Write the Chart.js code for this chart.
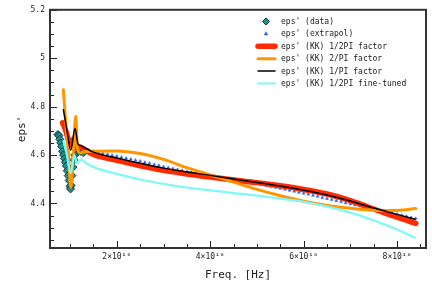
<!DOCTYPE html>
<html>
<head>
<meta charset="utf-8">
<script src="https://cdn.jsdelivr.net/npm/chart.js@4.4.0/dist/chart.umd.min.js"></script>
<style>
  html, body { margin: 0; padding: 0; background: #fff; }
  canvas { display: block; }
</style>
</head>
<body>
<canvas id="epsChart" width="432" height="300"></canvas>
<script>
// frequencies are in units of 1e10 Hz
const xTicks = [2, 4, 6, 8];
const yTicks = [4.4, 4.6, 4.8, 5, 5.2];

// eps' (data)
const dataFreq = [0.74, 0.76, 0.78, 0.80, 0.82, 0.84, 0.86, 0.88, 0.90, 0.92, 0.94, 0.96, 0.98, 1.00, 1.01, 1.02, 1.04, 1.06, 1.08, 1.10, 1.13, 1.17, 1.22, 1.28];
const dataEps = [4.685, 4.68, 4.665, 4.65, 4.635, 4.615, 4.60, 4.585, 4.57, 4.555, 4.535, 4.515, 4.495, 4.47, 4.46, 4.475, 4.515, 4.55, 4.58, 4.60, 4.612, 4.618, 4.615, 4.61];

// eps' (extrapol)
const extFreq = [1.2, 1.3, 1.4, 1.5, 1.6, 1.7, 1.8, 1.9, 2.0, 2.1, 2.2, 2.3, 2.4, 2.5, 2.6, 2.7, 2.8, 2.9, 3.0,
  3.1, 3.2, 3.3, 3.4, 3.5, 3.6, 3.7, 3.8, 3.9, 4.0, 4.1, 4.2, 4.3, 4.4, 4.5, 4.6, 4.7, 4.8, 4.9, 5.0,
  5.1, 5.2, 5.3, 5.4, 5.5, 5.6, 5.7, 5.8, 5.9, 6.0, 6.1, 6.2, 6.3, 6.4, 6.5, 6.6, 6.7, 6.8, 6.9, 7.0,
  7.1, 7.2, 7.3, 7.4, 7.5, 7.6, 7.7, 7.8, 7.9, 8.0, 8.1, 8.2, 8.3, 8.4];
const extEps = [4.628, 4.624, 4.620, 4.616, 4.612, 4.607, 4.603, 4.599, 4.595, 4.591, 4.587, 4.583, 4.579, 4.575, 4.570, 4.566, 4.561, 4.557, 4.552,
  4.548, 4.544, 4.540, 4.536, 4.532, 4.529, 4.525, 4.522, 4.518, 4.515, 4.512, 4.509, 4.505, 4.502, 4.499, 4.496, 4.492, 4.489, 4.485, 4.482,
  4.478, 4.474, 4.470, 4.466, 4.462, 4.458, 4.454, 4.450, 4.446, 4.442, 4.438, 4.433, 4.429, 4.424, 4.420, 4.416, 4.411, 4.407, 4.402, 4.398,
  4.394, 4.390, 4.386, 4.382, 4.378, 4.373, 4.369, 4.365, 4.360, 4.356, 4.351, 4.347, 4.342, 4.338];

// eps' (KK) 1/2PI factor
const halfFreq = [0.84, 0.90, 0.95, 1.00, 1.07, 1.14, 1.22, 1.3, 1.5, 2.0, 2.5, 3.0, 3.5, 4.0, 4.5, 5.0, 5.5, 6.0, 6.5, 7.0, 7.5, 8.0, 8.4];
const halfEps = [4.733, 4.705, 4.672, 4.642, 4.665, 4.635, 4.632, 4.624, 4.602, 4.578, 4.556, 4.537, 4.522, 4.509, 4.497, 4.486, 4.473, 4.458, 4.439, 4.412, 4.377, 4.343, 4.318];

// eps' (KK) 2/PI factor
const twoFreq = [0.855, 0.89, 0.92, 0.96, 1.014, 1.07, 1.12, 1.155, 1.21, 1.3, 1.5, 2.0, 2.5, 3.0, 3.5, 4.0, 4.5, 5.0, 5.5, 6.0, 6.5, 7.0, 7.5, 8.0, 8.4];
const twoEps = [4.87, 4.78, 4.70, 4.62, 4.465, 4.61, 4.76, 4.63, 4.608, 4.614, 4.616, 4.617, 4.606, 4.582, 4.548, 4.518, 4.488, 4.458, 4.432, 4.409, 4.392, 4.380, 4.372, 4.371, 4.379];

// eps' (KK) 1/PI factor
const oneFreq = [0.855, 0.93, 1.014, 1.106, 1.17, 1.22, 1.3, 1.5, 2.0, 2.5, 3.0, 3.5, 4.0, 4.5, 5.0, 5.5, 6.0, 6.5, 7.0, 7.5, 8.0, 8.4];
const oneEps = [4.79, 4.705, 4.62, 4.71, 4.645, 4.64, 4.632, 4.612, 4.588, 4.566, 4.546, 4.530, 4.516, 4.501, 4.487, 4.472, 4.455, 4.435, 4.410, 4.381, 4.355, 4.334];

// eps' (KK) 1/2PI fine-tuned
const tunedFreq = [0.855, 0.93, 1.014, 1.09, 1.15, 1.24, 1.35, 1.535, 2.0, 2.5, 3.0, 3.5, 4.0, 4.5, 5.0, 5.5, 6.0, 6.5, 7.0, 7.5, 8.0, 8.4];
const tunedEps = [4.66, 4.60, 4.525, 4.60, 4.565, 4.582, 4.565, 4.548, 4.522, 4.499, 4.481, 4.466, 4.454, 4.443, 4.432, 4.420, 4.407, 4.387, 4.362, 4.330, 4.292, 4.257];

const xMinor = [1, 1.5, 2.5, 3, 3.5, 4.5, 5, 5.5, 6.5, 7, 7.5, 8.5];
const yMinor = [4.25, 4.3, 4.35, 4.45, 4.5, 4.55, 4.65, 4.7, 4.75, 4.85, 4.9, 4.95, 5.05, 5.1, 5.15];

function pts(xs, ys) {
    return xs.map(function (v, i) { return {x: v, y: ys[i]}; });
}

const FONT = "'DejaVu Sans Mono', monospace";

// tick marks, frame and the legend inside the plot box
const framePlugin = {
    id: 'frame',
    afterDraw: function (chart) {
        const ctx = chart.ctx;
        const a = chart.chartArea;
        const x = chart.scales.x, y = chart.scales.y;
        ctx.save();
        ctx.strokeStyle = '#222';
        ctx.lineWidth = 1;
        ctx.beginPath();
        xTicks.concat(xMinor).forEach(function (v) {
            const len = xTicks.includes(v) ? 7 : 4;
            const px = Math.round(x.getPixelForValue(v)) + 0.5;
            ctx.moveTo(px, a.bottom);
            ctx.lineTo(px, a.bottom - len);
        });
        yTicks.concat(yMinor).forEach(function (v) {
            const len = yTicks.includes(v) ? 7 : 4;
            const py = Math.round(y.getPixelForValue(v)) + 0.5;
            ctx.moveTo(a.left, py);
            ctx.lineTo(a.left + len, py);
        });
        ctx.stroke();
        ctx.lineWidth = 2;
        ctx.strokeStyle = '#333';
        ctx.strokeRect(a.left, a.top, a.right - a.left, a.bottom - a.top);

        // legend
        ctx.font = '8px ' + FONT;
        ctx.textBaseline = 'middle';
        chart.data.datasets.forEach(function (ds, i) {
            const cy = 21.5 + i * 12.4;
            if (ds.showLine === false) {
                ctx.fillStyle = ds.pointBackgroundColor;
                ctx.strokeStyle = ds.pointBorderColor;
                ctx.lineWidth = ds.pointBorderWidth;
                Chart.helpers.drawPoint(ctx, {
                    pointStyle: ds.pointStyle,
                    radius: i === 0 ? 3.5 : 2.2,
                    borderWidth: ds.pointBorderWidth,
                    rotation: 0
                }, 266, cy);
            } else {
                ctx.strokeStyle = ds.borderColor;
                ctx.lineWidth = ds.borderWidth;
                ctx.lineCap = 'round';
                ctx.beginPath();
                ctx.moveTo(258, cy);
                ctx.lineTo(275, cy);
                ctx.stroke();
            }
            ctx.fillStyle = '#222';
            ctx.fillText(ds.label, 281, cy + 0.5);
        });
        ctx.restore();
    }
};

new Chart(document.getElementById('epsChart').getContext('2d'), {
    type: 'scatter',
    data: {
        datasets: [{
            label: "eps' (data)",
            data: pts(dataFreq, dataEps),
            showLine: false,
            pointStyle: 'rectRot',
            pointRadius: 4,
            pointBackgroundColor: '#1f8f8f',
            pointBorderColor: '#0d3a3a',
            pointBorderWidth: 1,
            order: 5
        }, {
            label: "eps' (extrapol)",
            data: pts(extFreq, extEps),
            showLine: false,
            pointStyle: 'triangle',
            pointRadius: 1.7,
            pointBackgroundColor: '#2a63f5',
            pointBorderColor: '#2a63f5',
            pointBorderWidth: 0.5,
            order: 4
        }, {
            label: "eps' (KK) 1/2PI factor",
            data: pts(halfFreq, halfEps),
            showLine: true,
            borderColor: '#ff2a00',
            borderWidth: 5.5,
            pointRadius: 0,
            cubicInterpolationMode: 'monotone',
            borderCapStyle: 'round',
            order: 3
        }, {
            label: "eps' (KK) 2/PI factor",
            data: pts(twoFreq, twoEps),
            showLine: true,
            borderColor: '#ff9500',
            borderWidth: 3,
            pointRadius: 0,
            cubicInterpolationMode: 'monotone',
            borderCapStyle: 'round',
            order: 2
        }, {
            label: "eps' (KK) 1/PI factor",
            data: pts(oneFreq, oneEps),
            showLine: true,
            borderColor: '#000000',
            borderWidth: 1.5,
            pointRadius: 0,
            cubicInterpolationMode: 'monotone',
            order: 1
        }, {
            label: "eps' (KK) 1/2PI fine-tuned",
            data: pts(tunedFreq, tunedEps),
            showLine: true,
            borderColor: '#7ff8f8',
            borderWidth: 2.2,
            pointRadius: 0,
            cubicInterpolationMode: 'monotone',
            order: 0
        }]
    },
    options: {
        responsive: false,
        animation: false,
        devicePixelRatio: 1,
        layout: {padding: {left: 12, top: 4, right: 6, bottom: 14}},
        plugins: {legend: {display: false}, tooltip: {enabled: false}},
        scales: {
            x: {
                type: 'linear',
                min: 0.57,
                max: 8.62,
                afterFit: function (s) { s.height = 38; },
                afterBuildTicks: function (s) { s.ticks = xTicks.map(function (v) { return {value: v}; }); },
                grid: {display: false, drawTicks: false},
                border: {display: false},
                ticks: {
                    padding: 4,
                    color: '#222',
                    font: {family: FONT, size: 8},
                    maxRotation: 0,
                    callback: function (v) { return v + '\u00d710\u00b9\u2070'; }
                },
                title: {display: true, text: 'Freq. [Hz]', color: '#222', font: {family: FONT, size: 11}}
            },
            y: {
                type: 'linear',
                min: 4.216,
                max: 5.2,
                afterFit: function (s) { s.width = 38; },
                afterBuildTicks: function (s) { s.ticks = yTicks.map(function (v) { return {value: v}; }); },
                grid: {display: false, drawTicks: false},
                border: {display: false},
                ticks: {
                    padding: 5,
                    color: '#222',
                    font: {family: FONT, size: 8},
                    callback: function (v) { return String(v); }
                },
                title: {display: true, text: "eps'", color: '#222', font: {family: FONT, size: 11}}
            }
        }
    },
    plugins: [framePlugin]
});
</script>
</body>
</html>
